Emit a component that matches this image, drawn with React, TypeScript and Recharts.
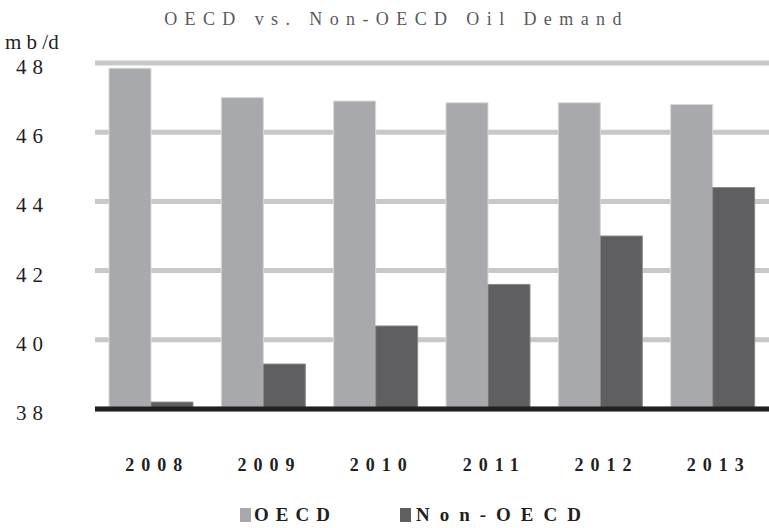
import { BarChart, Bar, XAxis, YAxis, CartesianGrid } from 'recharts'

const years = ['2008', '2009', '2010', '2011', '2012', '2013']
const oecd = [47.85, 47.0, 46.9, 46.85, 46.85, 46.8]
const nonOecd = [38.2, 39.3, 40.4, 41.6, 43.0, 44.4]
const yTicks = [38, 40, 42, 44, 46, 48]

const FONT = '"Liberation Serif", "DejaVu Serif", serif'
const OECD_COLOR = '#a8a9ad'
const NON_COLOR = '#5f5f62'

const chartData = years.map((y, i) => ({ year: y, oecd: oecd[i], nonOecd: nonOecd[i] }))

function YTick({ x, y, payload }: any) {
  return (
    <text x={x - 38} y={y + 11} textAnchor="end" fill="#231f20" fontFamily={FONT} fontSize={21} letterSpacing={6}>
      {payload.value}
    </text>
  )
}

function XTick({ x, y, payload }: any) {
  return (
    <text x={x + 6} y={y + 54} textAnchor="middle" fill="#231f20" fontFamily={FONT} fontSize={18} fontWeight="bold" letterSpacing={7}>
      {payload.value}
    </text>
  )
}

export default function App() {
  return (
    <div style={{ position: 'relative', width: 769, height: 528, background: '#fff' }}>
      <style>{'body{margin:0}'}</style>
      <div style={{ position: 'absolute', top: 9, left: 0, width: 769, textAlign: 'center', fontFamily: FONT, fontSize: 18, color: '#58595b', letterSpacing: '7.4px', paddingLeft: 24, boxSizing: 'border-box' }}>
        OECD vs. Non-OECD Oil Demand
      </div>
      <div style={{ position: 'absolute', top: 30, left: 5, fontFamily: FONT, fontSize: 21, color: '#231f20' }}>
        m b /d
      </div>
      <BarChart
        width={769}
        height={528}
        data={chartData}
        margin={{ top: 63, right: 0, bottom: 89, left: 0 }}
        barGap={0}
        barCategoryGap={14}
      >
        <CartesianGrid vertical={false} stroke="#c8c8c8" strokeWidth={5} />
        <YAxis
          width={95}
          domain={[38, 48]}
          ticks={yTicks}
          interval={0}
          axisLine={false}
          tickLine={false}
          tick={<YTick />}
        />
        <Bar dataKey="oecd" fill={OECD_COLOR} stroke="#d8d8da" strokeWidth={1} isAnimationActive={false} />
        <Bar dataKey="nonOecd" fill={NON_COLOR} stroke="#8a8a8d" strokeWidth={1} isAnimationActive={false} />
        <XAxis
          dataKey="year"
          height={30}
          axisLine={{ stroke: '#231f20', strokeWidth: 5 }}
          tickLine={false}
          tick={<XTick />}
        />
      </BarChart>
      <div style={{ position: 'absolute', top: 504, left: 240, display: 'flex', alignItems: 'center', fontFamily: FONT, fontSize: 19, fontWeight: 'bold', color: '#231f20' }}>
        <span style={{ width: 11, height: 14, background: OECD_COLOR, display: 'inline-block', marginRight: 3 }} />
        <span style={{ marginRight: 63, letterSpacing: '7px' }}>OECD</span>
        <span style={{ width: 11, height: 14, background: NON_COLOR, display: 'inline-block', marginRight: 5 }} />
        <span style={{ letterSpacing: '10px' }}>Non-OECD</span>
      </div>
    </div>
  )
}
